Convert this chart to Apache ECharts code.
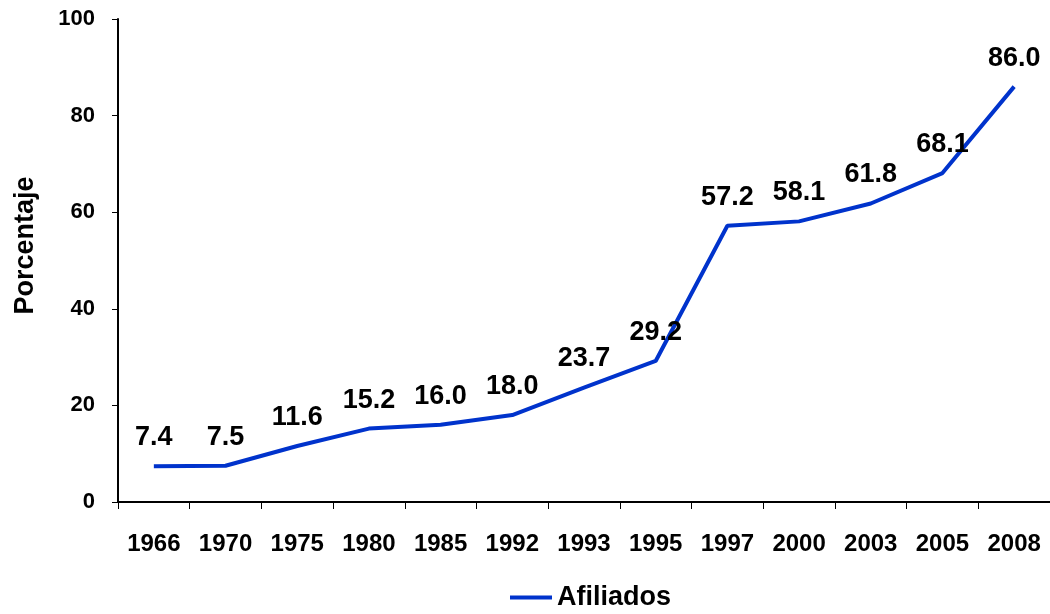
<!DOCTYPE html>
<html><head><meta charset="utf-8">
<script src="https://cdn.jsdelivr.net/npm/echarts@6/dist/echarts.min.js"></script>
<style>html,body{margin:0;padding:0;background:#fff}#c{width:1050px;height:614px}</style>
</head><body><div id="c"></div>
<script>
const categories = ['1966','1970','1975','1980','1985','1992','1993','1995','1997','2000','2003','2005','2008'];
const afiliados = [7.4, 7.5, 11.6, 15.2, 16.0, 18.0, 23.7, 29.2, 57.2, 58.1, 61.8, 68.1, 86.0];
const seriesName = 'Afiliados';
const yAxisName = 'Porcentaje';

const font = 'Liberation Sans, Arial, sans-serif';
const blue = '#0033CC';
const chart = echarts.init(document.getElementById('c'));
chart.setOption({
  animation: false,
  textStyle: { fontFamily: font },
  grid: { left: 118, top: 19, width: 936, height: 483, containLabel: false },
  legend: {
    top: 584, left: 510, padding: 0,
    data: [{ name: seriesName, icon: 'rect', itemStyle: { color: blue, opacity: 1 } }],
    itemWidth: 42, itemHeight: 4, itemGap: 4,
    textStyle: { fontSize: 27, fontWeight: 'bold', color: '#000', fontFamily: font }
  },
  xAxis: {
    type: 'category', data: categories, boundaryGap: true,
    axisLine: { lineStyle: { color: '#000', width: 2 } },
    axisTick: { show: true, length: 7, lineStyle: { color: '#000', width: 1 } },
    axisLabel: { fontSize: 24, fontWeight: 'bold', color: '#000', margin: 30, interval: 0, fontFamily: font }
  },
  yAxis: {
    type: 'value', min: 0, max: 100, interval: 20,
    name: yAxisName, nameLocation: 'middle', nameGap: 79,
    nameTextStyle: { fontSize: 27, fontWeight: 'bold', color: '#000', fontFamily: font, padding: [0, 0, 0, 30] },
    axisLine: { show: true, lineStyle: { color: '#000', width: 2 } },
    axisTick: { show: true, length: 6, lineStyle: { color: '#000', width: 1 } },
    splitLine: { show: false },
    axisLabel: { fontSize: 22, fontWeight: 'bold', color: '#000', margin: 23, fontFamily: font }
  },
  series: [{
    name: seriesName, type: 'line', data: afiliados,
    symbol: 'circle', symbolSize: 0, showSymbol: true, showAllSymbol: true,
    lineStyle: { color: blue, width: 4 },
    itemStyle: { color: blue },
    label: {
      show: true, position: 'top', distance: 15,
      formatter: p => Number(p.value).toFixed(1),
      fontSize: 27, fontWeight: 'bold', color: '#000', fontFamily: font
    }
  }]
});
</script></body></html>
